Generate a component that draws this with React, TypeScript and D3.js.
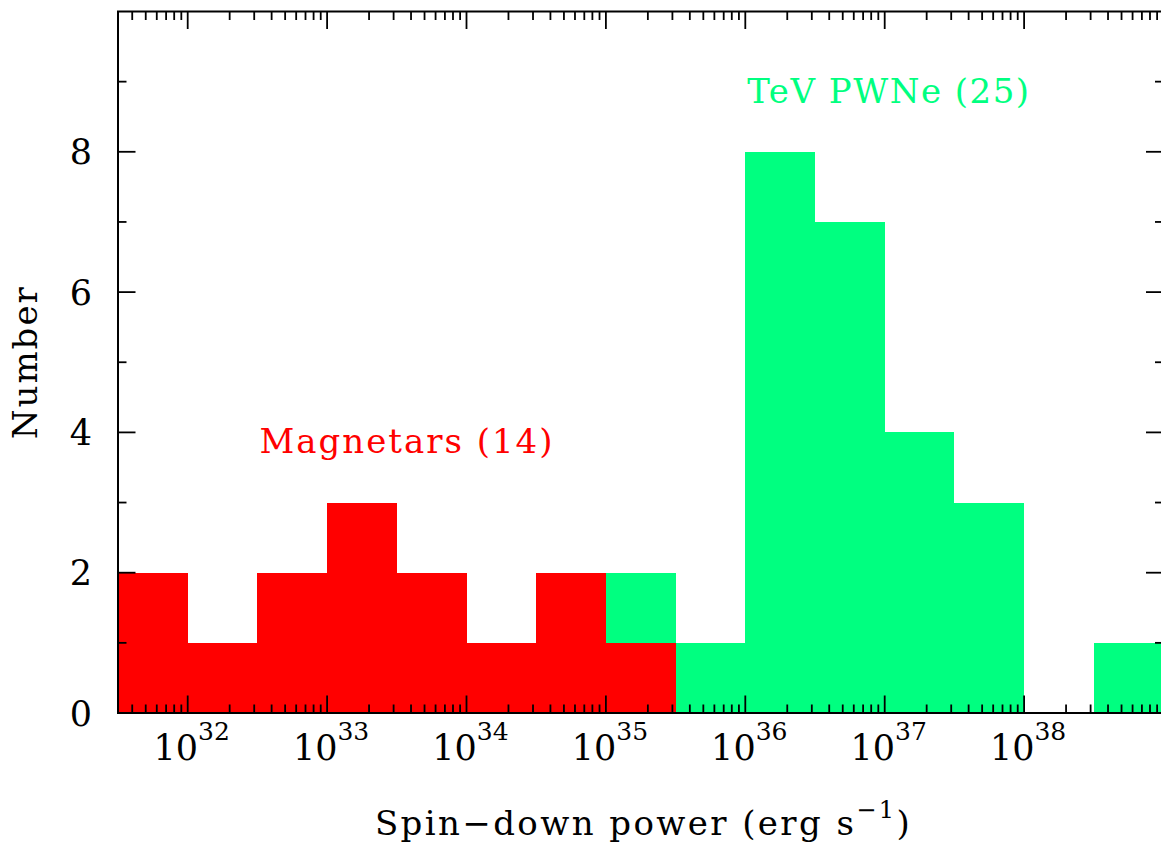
import React, { useRef, useEffect } from "react";
import * as d3 from "d3";

// histogram bins: lower edge as log10 of spin-down power, 0.5 dex wide
const binStarts = [31.5, 32, 32.5, 33, 33.5, 34, 34.5, 35, 35.5, 36, 36.5, 37, 37.5, 38, 38.5];
const magnetarCounts = [2, 1, 2, 3, 2, 1, 2, 1, 0, 0, 0, 0, 0, 0, 0];
const pwneCounts = [0, 0, 0, 0, 0, 0, 0, 1, 1, 8, 7, 4, 3, 0, 1];
const xMajorExps = [32, 33, 34, 35, 36, 37, 38];
const yMajorTicks = [0, 2, 4, 6, 8];
const yMinorTicks = [1, 3, 5, 7, 9];
const BIN_WIDTH = 0.5;

const App = () => {
  const svgRef = useRef<SVGSVGElement>(null);

  useEffect(() => {
    const width = 1161;
    const height = 844;
    const left = 118,
      right = 1163.5,
      top = 11.5,
      bottom = 713;
    const font = "'DejaVu Serif', serif";

    const svg = d3.select(svgRef.current);
    svg.selectAll("*").remove();
    svg.attr("width", width).attr("height", height);

    const x = d3.scaleLog().domain([10 ** 31.5, 10 ** 39]).range([left, right]);
    const y = d3.scaleLinear().domain([0, 10]).range([bottom, top]);

    const rows = binStarts.map((b, i) => ({
      lo: 10 ** b,
      hi: 10 ** (b + BIN_WIDTH),
      mag: magnetarCounts[i],
      pwn: pwneCounts[i],
    }));

    // magnetars on the bottom, TeV PWNe stacked on top
    svg
      .append("g")
      .selectAll("rect")
      .data(rows.filter((d) => d.pwn > 0))
      .join("rect")
      .attr("x", (d) => x(d.lo))
      .attr("width", (d) => x(d.hi) - x(d.lo))
      .attr("y", (d) => y(d.mag + d.pwn))
      .attr("height", (d) => y(d.mag) - y(d.mag + d.pwn))
      .attr("fill", "#00ff80")
      .attr("shape-rendering", "crispEdges");

    svg
      .append("g")
      .selectAll("rect")
      .data(rows.filter((d) => d.mag > 0))
      .join("rect")
      .attr("x", (d) => x(d.lo))
      .attr("width", (d) => x(d.hi) - x(d.lo))
      .attr("y", (d) => y(d.mag))
      .attr("height", (d) => y(0) - y(d.mag))
      .attr("fill", "#ff0000")
      .attr("shape-rendering", "crispEdges");

    // ticks, inward on all four sides
    const ticks = svg.append("g").attr("stroke", "#000").attr("stroke-width", 1.8);
    const xTicks = x.ticks();
    xTicks.forEach((t) => {
      const isMajor = Math.abs(Math.log10(t) - Math.round(Math.log10(t))) < 1e-9;
      const len = isMajor ? 17.5 : 8.5;
      const px = x(t);
      ticks.append("line").attr("x1", px).attr("x2", px).attr("y1", bottom).attr("y2", bottom - len);
      ticks.append("line").attr("x1", px).attr("x2", px).attr("y1", top).attr("y2", top + len);
    });
    const yAll = [
      ...yMajorTicks.map((v) => ({ v, len: 17.5 })),
      ...yMinorTicks.map((v) => ({ v, len: 8.5 })),
    ];
    yAll.forEach(({ v, len }) => {
      const py = y(v);
      ticks.append("line").attr("x1", left).attr("x2", left + len).attr("y1", py).attr("y2", py);
      ticks.append("line").attr("x1", right).attr("x2", right - len).attr("y1", py).attr("y2", py);
    });

    // frame
    svg
      .append("rect")
      .attr("x", left)
      .attr("y", top)
      .attr("width", right - left)
      .attr("height", bottom - top)
      .attr("fill", "none")
      .attr("stroke", "#000")
      .attr("stroke-width", 2);

    // x tick labels 10^n
    const xl = svg
      .append("g")
      .attr("font-family", font)
      .attr("font-size", 35)
      .attr("fill", "#000")
      .attr("text-anchor", "middle");
    xMajorExps.forEach((e) => {
      const t = xl.append("text").attr("x", x(10 ** e) + 4).attr("y", 760);
      t.append("tspan").text("10");
      t.append("tspan").attr("font-size", 25).attr("dy", -20).text(String(e));
    });

    // y tick labels
    svg
      .append("g")
      .attr("font-family", font)
      .attr("font-size", 35)
      .attr("text-anchor", "end")
      .selectAll("text")
      .data(yMajorTicks)
      .join("text")
      .attr("x", 92)
      .attr("y", (d) => y(d) + 12.5)
      .text((d) => d);

    // axis titles
    const xt = svg
      .append("text")
      .attr("x", (left + 1161) / 2 + 4)
      .attr("y", 835)
      .attr("text-anchor", "middle")
      .attr("font-family", font)
      .attr("font-size", 34)
      .attr("letter-spacing", 2.4);
    xt.append("tspan").text("Spin\u2212down power (erg s");
    xt.append("tspan").attr("font-size", 24).attr("dy", -17).text("\u22121");
    xt.append("tspan").attr("dy", 17).text(")");

    svg
      .append("text")
      .attr("transform", `translate(37, ${(top + bottom) / 2}) rotate(-90)`)
      .attr("text-anchor", "middle")
      .attr("font-family", font)
      .attr("font-size", 34)
      .attr("letter-spacing", 2)
      .text("Number");

    // series labels
    svg
      .append("text")
      .attr("x", x(10 ** 32.5) + 2)
      .attr("y", y(3.7))
      .attr("font-family", font)
      .attr("font-size", 34)
      .attr("letter-spacing", 2)
      .attr("fill", "#ff0000")
      .text("Magnetars (14)");

    svg
      .append("text")
      .attr("x", x(10 ** 36) + 2)
      .attr("y", y(8.7))
      .attr("font-family", font)
      .attr("font-size", 34)
      .attr("letter-spacing", 1.5)
      .attr("fill", "#00ff80")
      .text("TeV PWNe (25)");
  }, []);

  return (
    <div style={{ position: "absolute", left: 0, top: 0, background: "#fff" }}>
      <svg ref={svgRef} style={{ display: "block" }}></svg>
    </div>
  );
};

export default App;
